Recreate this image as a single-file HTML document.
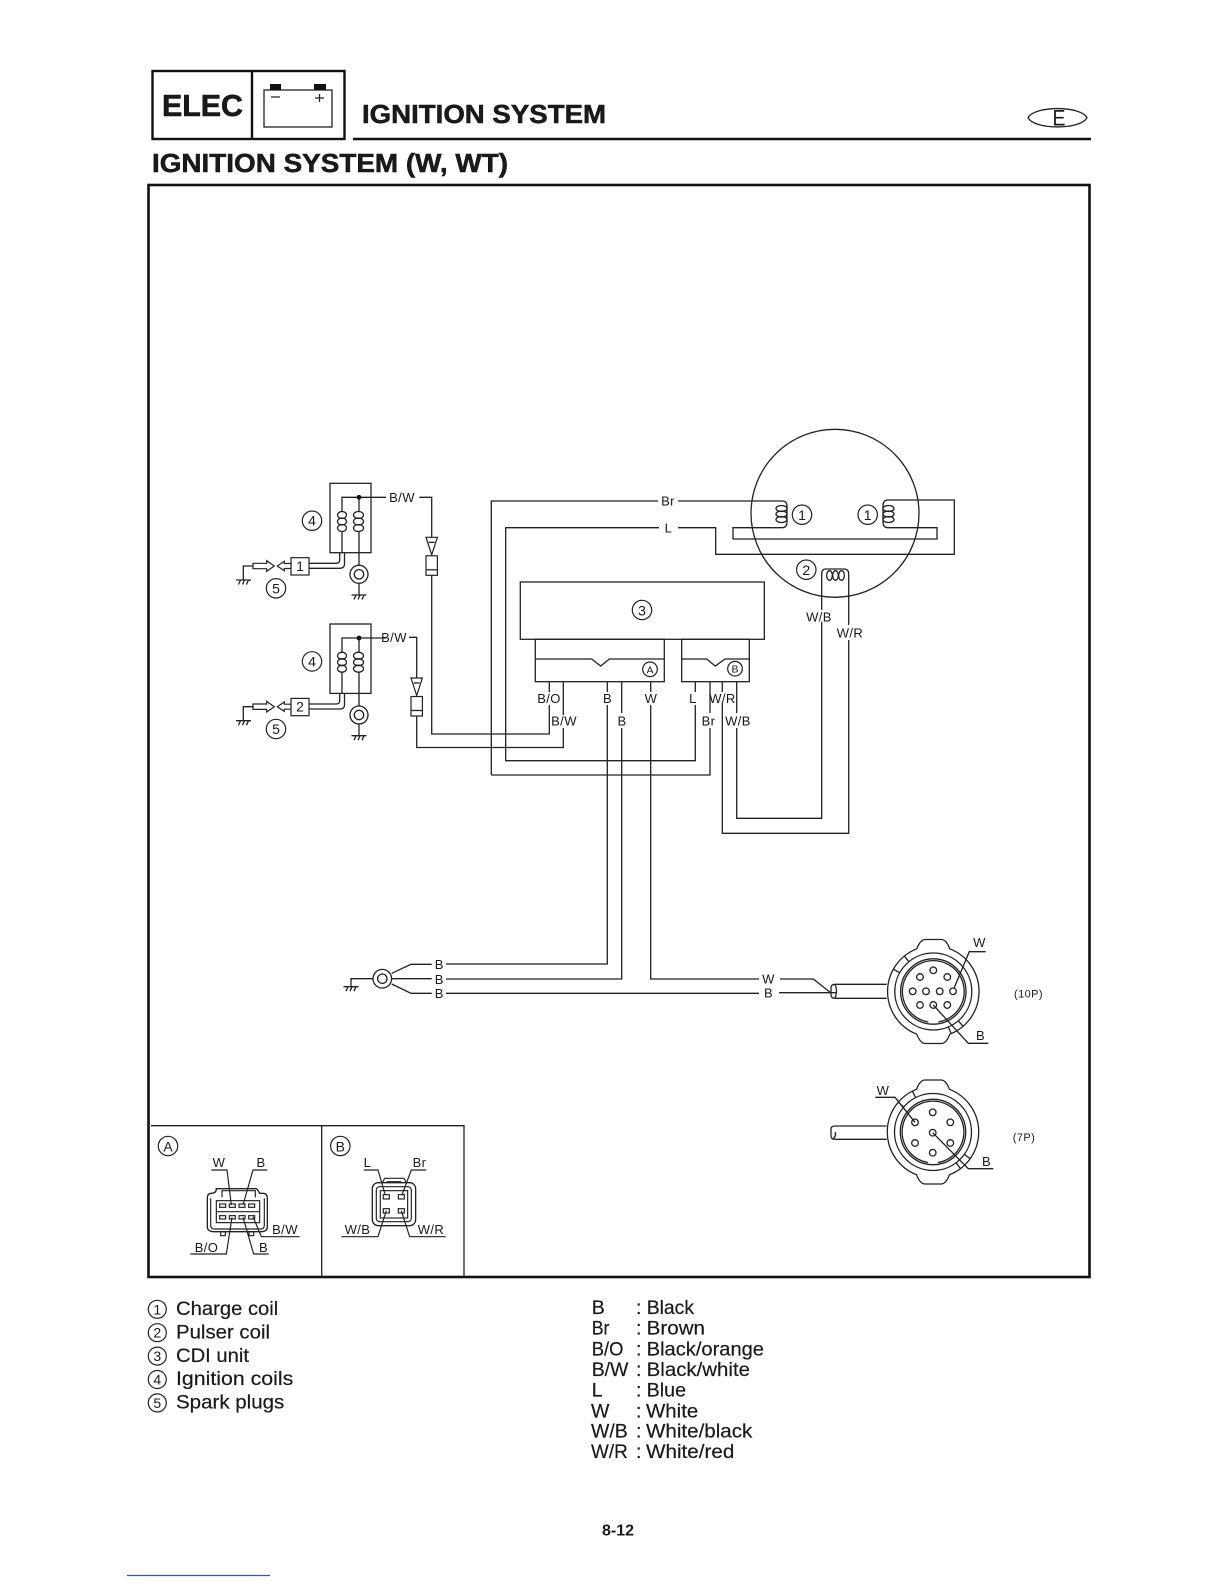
<!DOCTYPE html>
<html><head><meta charset="utf-8"><style>
html,body{margin:0;padding:0;background:#fff}
svg{display:block}
text{font-family:"Liberation Sans",sans-serif;fill:#1a1a1a}
.l{fill:none;stroke:#222;stroke-width:1.3}
.k{fill:none;stroke:#111;stroke-width:2.4}
.f{fill:#fff;stroke:#222;stroke-width:1.2}
.t{font-size:13px;text-anchor:middle;letter-spacing:.4px}
.n{font-size:14px;text-anchor:middle}
.c{fill:#fff;stroke:#222;stroke-width:1.2}
.g{font-size:19.5px;stroke:#1a1a1a;stroke-width:.2}
.s{font-size:11px;text-anchor:middle;letter-spacing:.4px}
.h{font-size:26px;font-weight:bold;stroke:#111;stroke-width:.5}
</style></head><body>
<svg width="1224" height="1584" viewBox="0 0 1224 1584" xmlns="http://www.w3.org/2000/svg">
<rect width="1224" height="1584" fill="#fff"/>

<!-- header -->
<rect x="152.500" y="71" width="192" height="68" class="k"/>
<path d="M252 71V139" class="k"/>
<path d="M353 139H1091" class="k" stroke-width="2.600"/>
<text x="162" y="116" font-size="31" font-weight="bold" textLength="81" lengthAdjust="spacingAndGlyphs" stroke="#111" stroke-width=".6">ELEC</text>
<rect x="264" y="90" width="68" height="37" class="l"/>
<rect x="270" y="84" width="11" height="6" fill="#111"/><rect x="314" y="84" width="12" height="6" fill="#111"/>
<path d="M271 97H280M315 98H324M319.500 94V102" class="l" stroke-width="1.800"/>
<text x="362" y="123" class="h" textLength="244" lengthAdjust="spacingAndGlyphs">IGNITION SYSTEM</text>
<text x="152" y="172" class="h" textLength="356" lengthAdjust="spacingAndGlyphs">IGNITION SYSTEM (W, WT)</text>
<path d="M1028 117.700C1034 105.500 1081 105.500 1087 117.700C1081 130 1034 130 1028 117.700Z" class="l"/>
<text x="1059" y="125.700" font-size="22" text-anchor="middle" textLength="13" lengthAdjust="spacingAndGlyphs">E</text>

<!-- frame -->
<rect x="148.500" y="185" width="941" height="1092" fill="none" stroke="#111" stroke-width="2.600"/>

<!-- ignition coil group -->
<defs>
<g id="gnd"><path d="M-7.500 0H7.500M-3 0L-5 4.500M1 0L-1 4.500M5 0L3 4.500" class="l"/></g>
<g id="coil">
<rect x="330" y="483.300" width="41" height="69.400" class="l" stroke-width="1.600"/>
<path d="M386 497.300H342V512M342 531.500V552.700M359 497.300V512M359 531.500V565.300" class="l"/>
<circle cx="359" cy="497.300" r="2.400" fill="#111"/>
<ellipse cx="342" cy="515" rx="4.500" ry="3.500" class="l"/><ellipse cx="342" cy="521.500" rx="4.500" ry="3.500" class="l"/><ellipse cx="342" cy="528" rx="4.500" ry="3.500" class="l"/>
<ellipse cx="358.500" cy="515" rx="5" ry="3.500" class="l"/><ellipse cx="358.500" cy="521.500" rx="5" ry="3.500" class="l"/><ellipse cx="358.500" cy="528" rx="5" ry="3.500" class="l"/>
<path d="M339.700 552.700V560Q339.700 563.300 336 563.300H309M344.500 552.700V564Q344.500 568.300 340 568.300H309" class="l"/>
<circle cx="359" cy="574.300" r="9" class="l" stroke-width="1.600"/><circle cx="359" cy="574.300" r="4.700" class="l"/>
<path d="M359 583.300V595" class="l"/><use href="#gnd" x="359" y="595"/>
<rect x="291" y="557.700" width="18" height="17.300" class="f"/>
<path d="M277.300 566L284.300 561.300V563.500H291V568.500H284.300V570.700Z" class="f"/>
<path d="M253 563.300H266.700V560.700L274.300 566L266.700 571.300V568.700H253Z" class="f"/>
<path d="M253 566H243.300V580" class="l"/><use href="#gnd" x="243.500" y="580"/>
<circle cx="312" cy="520.700" r="9.700" class="c"/><text x="312" y="525.700" class="n">4</text>
<circle cx="276" cy="588.300" r="9.700" class="c"/><text x="276" y="593.300" class="n">5</text>
</g>
<g id="conn">
<path d="M-5.700 0H5.700L0 17.500Z" class="f"/><path d="M-3 5H3" class="l"/>
<rect x="-5.700" y="18.500" width="11.400" height="19.500" class="f"/><path d="M-5.700 32.500H5.700" class="l" stroke-width="1.600"/>
</g>
</defs>

<use href="#coil"/>
<g transform="translate(0,140.700)"><use href="#coil"/></g>
<text x="300" y="571" font-size="14" text-anchor="middle">1</text>
<text x="300" y="711.700" font-size="14" text-anchor="middle">2</text>
<text x="402" y="502" class="t">B/W</text>
<text x="394" y="642" class="t">B/W</text>

<!-- B/W routes -->
<path d="M419.300 497.300H431.700V537.300M431.700 575V734H549.300V705" class="l"/>
<use href="#conn" x="431.700" y="537.300"/>
<path d="M409 637.300H416.700V678M416.700 716V747.500H563.300V728" class="l"/>
<use href="#conn" x="416.700" y="678"/>

<!-- stator -->
<circle cx="835" cy="513.300" r="84" class="l"/>
<path d="M491.300 775V501H658M678 501H782Q787 501 787 506V522Q787 527.700 782 527.700H733V539H937V527.700H888Q883 527.700 883 522V506Q883 500 888 500H954.300V554.300H715.700V527.700H678M659 527.700H505.700V760.700H695.300V705" class="l"/>
<path d="M491.300 775H710V728" class="l"/>
<text x="668" y="505.500" class="t">Br</text><text x="668.500" y="532.500" class="t">L</text>
<g class="l"><ellipse cx="781.500" cy="508.500" rx="5.500" ry="3"/><ellipse cx="781.500" cy="514" rx="5.500" ry="3"/><ellipse cx="781.500" cy="519.500" rx="5.500" ry="3"/>
<ellipse cx="888.500" cy="508.500" rx="5.500" ry="3"/><ellipse cx="888.500" cy="514" rx="5.500" ry="3"/><ellipse cx="888.500" cy="519.500" rx="5.500" ry="3"/>
<ellipse cx="829.500" cy="575.500" rx="2.800" ry="4.800"/><ellipse cx="835.500" cy="575.500" rx="2.800" ry="4.800"/><ellipse cx="841.500" cy="575.500" rx="2.800" ry="4.800"/></g>
<circle cx="802" cy="514.700" r="9.700" class="c"/><text x="802" y="520" class="n">1</text>
<circle cx="867.700" cy="514.700" r="9.700" class="c"/><text x="867.700" y="520" class="n">1</text>
<circle cx="806.300" cy="569.700" r="9.700" class="c"/><text x="806.300" y="575" class="n">2</text>
<path d="M821.700 610V574Q821.700 569 826 569H844Q848.700 569 848.700 574V625M848.700 640V833.300H722.300V703M722.300 692V681.700M821.700 621.700V818.300H736.700V728M736.700 713V681.700" class="l"/>
<text x="819" y="621.500" class="t">W/B</text><text x="850" y="637.500" class="t">W/R</text>

<!-- CDI -->
<rect x="520.300" y="582" width="244" height="57.300" class="l" stroke-width="1.600"/>
<rect x="535.300" y="639.300" width="129" height="42.400" class="l" stroke-width="1.500"/>
<rect x="681.700" y="639.300" width="67.600" height="42.400" class="l" stroke-width="1.500"/>
<path d="M535.300 659H591.700L600.700 666L609.300 659H664.300M681.700 659H706.700L715.300 666L725 659H749.300" class="l"/>
<circle cx="642" cy="610" r="9.700" class="c"/><text x="642" y="615.300" class="n">3</text>
<circle cx="650" cy="669.300" r="7.300" class="c"/><text x="650" y="673.300" font-size="10.500" text-anchor="middle">A</text>
<circle cx="735" cy="668.700" r="7.300" class="c"/><text x="735" y="672.700" font-size="10.500" text-anchor="middle">B</text>
<path d="M549.300 681.700V692M563.300 681.700V715M607.300 681.700V692M607.300 705V964H446M621.700 681.700V713M621.700 728V979H446M650.700 681.700V692M650.700 705V979H759M780 979H813.300L830.700 992.700M695.300 681.700V692M710 681.700V713M446 993.300H759M779 992.700H836" class="l"/>
<text x="549" y="703" class="t">B/O</text><text x="564" y="725.500" class="t">B/W</text>
<text x="607.500" y="703" class="t">B</text><text x="622" y="725.500" class="t">B</text>
<text x="651" y="703" class="t">W</text><text x="693" y="703" class="t">L</text>
<text x="708.500" y="725.500" class="t">Br</text><text x="722.500" y="703" class="t">W/R</text><text x="738" y="725.500" class="t">W/B</text>

<!-- ground ring -->
<circle cx="382.300" cy="978.700" r="9.300" class="l" stroke-width="1.700"/><circle cx="382.300" cy="978.700" r="4.700" class="l"/>
<path d="M373 978.700H351V986.700M391.700 973.300L411 964.300H431.700M391.700 978.700H431.700M391.700 984L411 993.300H431.700" class="l"/>
<use href="#gnd" x="351" y="986.700"/>
<text x="439.300" y="968.800" class="t">B</text><text x="439.300" y="983.800" class="t">B</text><text x="439.300" y="998" class="t">B</text>
<text x="768.500" y="983.500" class="t">W</text><text x="768.500" y="997.500" class="t">B</text>

<!-- plugs -->
<defs><g id="plug">
<path d="M-16.500 -42.700Q-13 -52 -8 -52H8Q13 -52 16.500 -42.700A45.800 45.800 0 0 1 16.500 42.700Q13 52 8 52H-8Q-13 52 -16.500 42.700A45.800 45.800 0 0 1 -16.500 -42.700Z" class="l" stroke-width="1.600"/>
<circle r="38.500" class="l" stroke-width="1.300"/><circle r="32.700" class="l" stroke-width="1.300"/>
<path d="M-5 30.500A30.900 30.900 0 1 1 5 30.500" class="l"/>
</g></defs>
<g transform="translate(933.300,991.500)"><use href="#plug"/><path d="M-33.600 -18.700L-40 -22.300M-24.400 -29.800L-29 -35.400M15 35.400L17.900 42.100M25 29.300L29.800 34.800" class="l"/></g>
<path d="M886.700 984.300H835Q831 984.300 831 988V995Q831 998.300 835 998.300H886.700M835 984.300Q838 991 835 998.300" class="l" stroke-width="1.500"/>
<g class="l"><circle cx="933.300" cy="970.300" r="3.300"/><circle cx="920" cy="977" r="3.300"/><circle cx="947.300" cy="977" r="3.300"/><circle cx="912.700" cy="991.300" r="3.300"/><circle cx="926" cy="991.300" r="3.300"/><circle cx="939.700" cy="991.300" r="3.300"/><circle cx="953" cy="991.300" r="3.300"/><circle cx="920" cy="1005" r="3.300"/><circle cx="933.300" cy="1005" r="3.300"/><circle cx="947.300" cy="1005" r="3.300"/></g>
<path d="M985.700 951.700H969.300L954 988.300M933.300 1005L968.300 1043.300H988.300" class="l"/>
<text x="979.500" y="947" class="t">W</text><text x="980.500" y="1040" class="t">B</text>
<text x="1028.500" y="997.500" class="s">(10P)</text>

<g transform="translate(933,1132)"><use href="#plug"/><path d="M-29.300 -25L-34.800 -29.800M-17.300 -34.300L-20.600 -40.800M23.100 30.800L27.500 36.600M31.200 22.300L37.100 26.600" class="l"/></g>
<path d="M886.700 1126H835Q831 1126 831 1129V1136Q831 1139.300 835 1139.300H886.700M835 1132Q837 1135 833 1139" class="l" stroke-width="1.500"/>
<g class="l"><circle cx="932.700" cy="1112.300" r="3.300"/><circle cx="915" cy="1122.300" r="3.300"/><circle cx="950.300" cy="1122.300" r="3.300"/><circle cx="932.700" cy="1132.700" r="3.300"/><circle cx="915" cy="1143" r="3.300"/><circle cx="950.300" cy="1143" r="3.300"/><circle cx="932.700" cy="1152.700" r="3.300"/></g>
<path d="M875.300 1097.300H895L915 1122.300M932.700 1132.700L968.300 1168.700H993.300" class="l"/>
<text x="883" y="1095" class="t">W</text><text x="986.500" y="1166" class="t">B</text>
<text x="1024" y="1141" class="s">(7P)</text>

<!-- connector panels -->
<path d="M151 1125.700H464V1277M321.700 1125.700V1277" class="l" stroke-width="1.400"/>
<circle cx="168" cy="1146" r="9.700" class="c"/><text x="168" y="1151.300" class="n">A</text>
<circle cx="340.300" cy="1146" r="9.700" class="c"/><text x="340.300" y="1151.300" class="n">B</text>
<g transform="translate(148,1110) scale(.3333)">
<path d="M190 250Q205 250 205 236H325Q330 240 335 250H345Q358 250 358 265V350Q358 365 340 365H198Q178 365 178 350V265Q178 250 190 250Z" fill="none" stroke="#222" stroke-width="4"/>
<path d="M188 265V345Q188 357 200 357H338Q349 357 349 345V265" fill="none" stroke="#222" stroke-width="3.500"/>
<path d="M222 262V242H322V262" fill="none" stroke="#222" stroke-width="3.500"/>
<rect x="205" y="272" width="130" height="66" fill="none" stroke="#222" stroke-width="3.500"/>
<path d="M205 305H335" fill="none" stroke="#222" stroke-width="3.500"/>
<g fill="none" stroke="#222" stroke-width="3.500"><rect x="215" y="282" width="18" height="10"/><rect x="244" y="282" width="18" height="10"/><rect x="273" y="282" width="18" height="10"/><rect x="302" y="282" width="18" height="10"/><rect x="215" y="317" width="18" height="10"/><rect x="244" y="317" width="18" height="10"/><rect x="273" y="317" width="18" height="10"/><rect x="302" y="317" width="18" height="10"/><rect x="218" y="365" width="14" height="12"/><rect x="303" y="365" width="14" height="12"/></g>
<path d="M190 180H237L250 285M358 180H315L285 285M455 380H340L315 320M127 432H235L252 322M362 432H317L285 322" fill="none" stroke="#222" stroke-width="3.500"/>
<path d="M703 218L710 205H768L775 218M718 218V215H758V218" fill="none" stroke="#222" stroke-width="3.500"/>
<rect x="673" y="218" width="130" height="129" rx="18" fill="none" stroke="#222" stroke-width="4"/>
<rect x="685" y="230" width="105" height="105" rx="10" fill="none" stroke="#222" stroke-width="3.500"/>
<rect x="697" y="242" width="82" height="82" fill="none" stroke="#222" stroke-width="3.500"/>
<g fill="none" stroke="#222" stroke-width="3.500"><rect x="706" y="254" width="18" height="13"/><rect x="751" y="254" width="18" height="13"/><rect x="706" y="296" width="18" height="13"/><rect x="751" y="296" width="18" height="13"/></g>
<path d="M647 180H690L712 255M835 180H790L762 255M580 380H690L715 302M893 380H785L760 302" fill="none" stroke="#222" stroke-width="3.500"/>
</g>
<text x="219" y="1167" class="t">W</text><text x="261" y="1167" class="t">B</text>
<text x="285" y="1234" class="t">B/W</text><text x="206.500" y="1252" class="t">B/O</text><text x="263.500" y="1252" class="t">B</text>
<text x="367.500" y="1167" class="t">L</text><text x="419.500" y="1167" class="t">Br</text>
<text x="357.500" y="1234" class="t">W/B</text><text x="431" y="1234" class="t">W/R</text>

<!-- legend -->
<circle cx="157.300" cy="1309.300" r="9" class="c"/><text x="157.300" y="1314.300" class="n">1</text><text x="176" y="1315" class="g" textLength="102.300" lengthAdjust="spacingAndGlyphs">Charge coil</text>
<circle cx="157.300" cy="1332.700" r="9" class="c"/><text x="157.300" y="1337.700" class="n">2</text><text x="176" y="1338.400" class="g" textLength="94" lengthAdjust="spacingAndGlyphs">Pulser coil</text>
<circle cx="157.300" cy="1356.100" r="9" class="c"/><text x="157.300" y="1361.100" class="n">3</text><text x="176" y="1361.800" class="g" textLength="73" lengthAdjust="spacingAndGlyphs">CDI unit</text>
<circle cx="157.300" cy="1379.500" r="9" class="c"/><text x="157.300" y="1384.500" class="n">4</text><text x="176" y="1385.200" class="g" textLength="117.300" lengthAdjust="spacingAndGlyphs">Ignition coils</text>
<circle cx="157.300" cy="1402.900" r="9" class="c"/><text x="157.300" y="1407.900" class="n">5</text><text x="176" y="1408.600" class="g" textLength="108.300" lengthAdjust="spacingAndGlyphs">Spark plugs</text>

<text x="591.700" y="1314" class="g">B</text><text x="636" y="1314" class="g">:</text><text x="646.700" y="1314" class="g" textLength="47.300" lengthAdjust="spacingAndGlyphs">Black</text>
<text x="591.700" y="1334.700" class="g" textLength="17.700" lengthAdjust="spacingAndGlyphs">Br</text><text x="636" y="1334.700" class="g">:</text><text x="646.700" y="1334.700" class="g" textLength="58.300" lengthAdjust="spacingAndGlyphs">Brown</text>
<text x="591.700" y="1355.300" class="g" textLength="31.700" lengthAdjust="spacingAndGlyphs">B/O</text><text x="636" y="1355.300" class="g">:</text><text x="646.700" y="1355.300" class="g" textLength="117.300" lengthAdjust="spacingAndGlyphs">Black/orange</text>
<text x="591.700" y="1376" class="g" textLength="36.700" lengthAdjust="spacingAndGlyphs">B/W</text><text x="636" y="1376" class="g">:</text><text x="646.700" y="1376" class="g" textLength="103.300" lengthAdjust="spacingAndGlyphs">Black/white</text>
<text x="591.700" y="1396.700" class="g">L</text><text x="636" y="1396.700" class="g">:</text><text x="646.700" y="1396.700" class="g" textLength="39.300" lengthAdjust="spacingAndGlyphs">Blue</text>
<text x="591" y="1417.300" class="g">W</text><text x="636" y="1417.300" class="g">:</text><text x="646" y="1417.300" class="g" textLength="52.300" lengthAdjust="spacingAndGlyphs">White</text>
<text x="591" y="1437.700" class="g" textLength="36.700" lengthAdjust="spacingAndGlyphs">W/B</text><text x="636" y="1437.700" class="g">:</text><text x="646" y="1437.700" class="g" textLength="106.300" lengthAdjust="spacingAndGlyphs">White/black</text>
<text x="591" y="1458" class="g" textLength="36.700" lengthAdjust="spacingAndGlyphs">W/R</text><text x="636" y="1458" class="g">:</text><text x="646" y="1458" class="g" textLength="88.300" lengthAdjust="spacingAndGlyphs">White/red</text>

<text x="618" y="1535.500" font-size="16" font-weight="bold" text-anchor="middle">8-12</text>
<path d="M127 1575.500H270" stroke="#3a4fc0" stroke-width="1.300"/>
</svg>
</body></html>
